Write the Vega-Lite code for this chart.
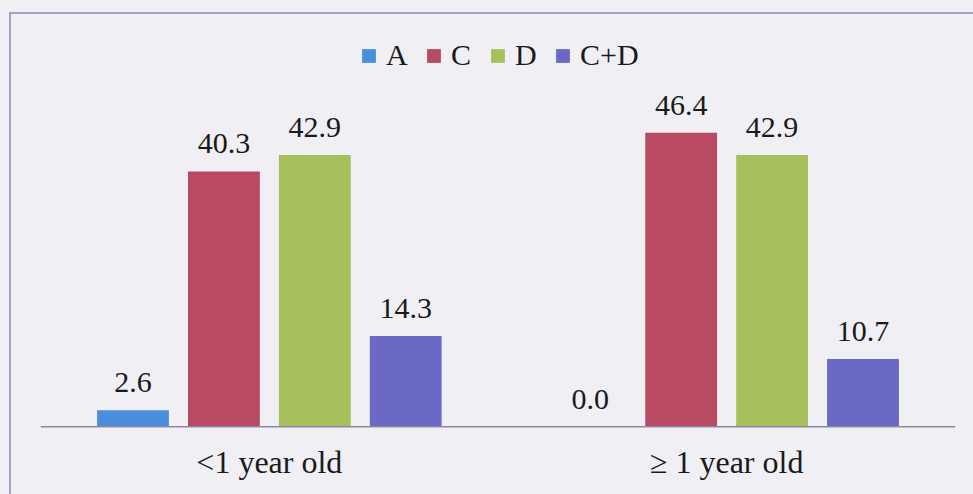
{
  "$schema": "https://vega.github.io/schema/vega-lite/v6.json",
  "width": 976,
  "height": 491,
  "autosize": {"type": "none"},
  "padding": {"left": 10, "top": 13, "right": 0, "bottom": 0},
  "background": "#EFEFF4",
  "config": {
    "view": {"stroke": "#8A8AB4", "strokeWidth": 1.5},
    "font": "Liberation Serif",
    "text": {"font": "Liberation Serif", "color": "#1A1A1A"}
  },
  "data": {
    "values": [
      {"group": "<1 year old", "series": "A", "value": 2.6},
      {"group": "<1 year old", "series": "C", "value": 40.3},
      {"group": "<1 year old", "series": "D", "value": 42.9},
      {"group": "<1 year old", "series": "C+D", "value": 14.3},
      {"group": "≥ 1 year old", "series": "A", "value": 0.0},
      {"group": "≥ 1 year old", "series": "C", "value": 46.4},
      {"group": "≥ 1 year old", "series": "D", "value": 42.9},
      {"group": "≥ 1 year old", "series": "C+D", "value": 10.7}
    ]
  },
  "encoding": {
    "x": {
      "field": "group",
      "type": "nominal",
      "scale": {"domain": ["<1 year old", "≥ 1 year old"], "paddingInner": 0, "paddingOuter": 0.0672},
      "axis": null
    }
  },
  "layer": [
    {
      "mark": {"type": "bar"},
      "encoding": {
        "xOffset": {
          "field": "series",
          "type": "nominal",
          "scale": {"domain": ["A", "C", "D", "C+D"], "paddingInner": 0.21, "paddingOuter": 0.62}
        },
        "y": {
          "field": "value",
          "type": "quantitative",
          "scale": {"domain": [-12.2, 65.3], "nice": false, "zero": false},
          "axis": null
        },
        "color": {
          "field": "series",
          "type": "nominal",
          "scale": {"domain": ["A", "C", "D", "C+D"], "range": ["#4A8EDC", "#B84A62", "#A8C05C", "#6B68C6"]},
          "legend": {
            "orient": "none",
            "legendX": 344,
            "legendY": 28,
            "direction": "horizontal",
            "columns": 4,
            "title": null,
            "padding": 0,
            "symbolType": "square",
            "symbolSize": 190,
            "symbolStrokeWidth": 0,
            "labelFont": "Liberation Serif",
            "labelFontSize": 30,
            "labelColor": "#1A1A1A",
            "labelOffset": 2,
            "columnPadding": 11
          }
        }
      }
    },
    {
      "mark": {"type": "text", "baseline": "alphabetic", "dy": -18, "fontSize": 30, "font": "Liberation Serif"},
      "encoding": {
        "xOffset": {
          "field": "series",
          "type": "nominal",
          "scale": {"domain": ["A", "C", "D", "C+D"], "paddingInner": 0.21, "paddingOuter": 0.62}
        },
        "y": {"field": "value", "type": "quantitative", "scale": {"domain": [-12.2, 65.3], "nice": false, "zero": false}},
        "text": {"field": "value", "type": "quantitative", "format": ".1f"}
      }
    },
    {
      "transform": [{"filter": {"field": "series", "equal": "A"}}],
      "mark": {"type": "text", "baseline": "alphabetic", "fontSize": 32, "font": "Liberation Serif"},
      "encoding": {
        "y": {"datum": -7.3, "type": "quantitative"},
        "text": {"field": "group", "type": "nominal"}
      }
    },
    {
      "transform": [{"filter": "datum.series === 'A' && datum.group === '<1 year old'"}],
      "mark": {"type": "rule", "color": "#8C8C9E", "strokeWidth": 1.5},
      "encoding": {
        "x": {"datum": "<1 year old", "bandPosition": 0},
        "x2": {"datum": "≥ 1 year old", "bandPosition": 1},
        "y": {"datum": 0, "type": "quantitative"}
      }
    }
  ]
}
